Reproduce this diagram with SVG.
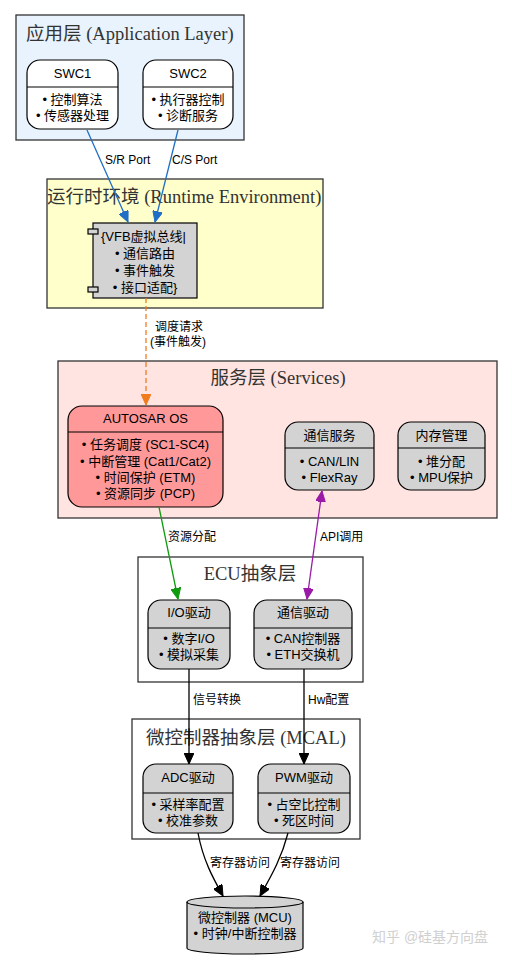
<svg xmlns="http://www.w3.org/2000/svg" width="512" height="961" viewBox="0 0 512 961">
<style>
.cl{stroke:#333;stroke-width:1.3}
.ct{font-family:"Liberation Serif","Noto Sans CJK SC",serif;font-size:18.5px;fill:#333}
.nd{stroke:#000;stroke-width:1.2}
.t{font-family:"Liberation Sans","Noto Sans CJK SC",sans-serif;font-size:13px;fill:#000;text-anchor:middle}
.el{font-family:"Liberation Sans","Noto Sans CJK SC",sans-serif;font-size:12px;fill:#000}
.e{fill:none;stroke-width:1.3}
</style>
<defs>
<marker id="ab" markerUnits="userSpaceOnUse" markerWidth="12" markerHeight="10" refX="11" refY="5" orient="auto"><path d="M0,0 L11,5 L0,10 z" fill="#1f6fc5" stroke="#1f6fc5"/></marker>
<marker id="ao" markerUnits="userSpaceOnUse" markerWidth="12" markerHeight="10" refX="11" refY="5" orient="auto"><path d="M0,0 L11,5 L0,10 z" fill="#f07c1e" stroke="#f07c1e"/></marker>
<marker id="ag" markerUnits="userSpaceOnUse" markerWidth="12" markerHeight="10" refX="11" refY="5" orient="auto"><path d="M0,0 L11,5 L0,10 z" fill="#109a10" stroke="#109a10"/></marker>
<marker id="ap" markerUnits="userSpaceOnUse" markerWidth="12" markerHeight="10" refX="11" refY="5" orient="auto-start-reverse"><path d="M0,0 L11,5 L0,10 z" fill="#9a1aa8" stroke="#9a1aa8"/></marker>
<marker id="ak" markerUnits="userSpaceOnUse" markerWidth="12" markerHeight="10" refX="11" refY="5" orient="auto"><path d="M0,0 L11,5 L0,10 z" fill="#000" stroke="#000"/></marker>
</defs>
<rect width="512" height="961" fill="#fff"/>

<g id="cluster_app">
<rect class="cl" x="16" y="15" width="228" height="125" fill="#e8f3fd"/>
<text class="ct" x="26" y="40">应用层 (Application Layer)</text>
</g>
<g id="cluster_rte">
<rect class="cl" x="47" y="179" width="276" height="129" fill="#ffffcc"/>
<text class="ct" x="47" y="203">运行时环境 (Runtime Environment)</text>
</g>
<g id="cluster_services">
<rect class="cl" x="58" y="361" width="439" height="157" fill="#ffe4e1"/>
<text class="ct" x="278" y="384" text-anchor="middle">服务层 (Services)</text>
</g>
<g id="cluster_ecu">
<rect class="cl" x="138" y="557" width="225" height="125" fill="#fff"/>
<text class="ct" x="250" y="580" text-anchor="middle">ECU抽象层</text>
</g>
<g id="cluster_mcal">
<rect class="cl" x="132" y="719" width="228" height="120" fill="#fff"/>
<text class="ct" x="246" y="744" text-anchor="middle">微控制器抽象层 (MCAL)</text>
</g>

<g id="SWC1">
<rect class="nd" x="27" y="60" width="91" height="69" rx="13" fill="#fff"/>
<line class="nd" x1="27" y1="87" x2="118" y2="87"/>
<text class="t" x="72.5" y="78">SWC1</text>
<text class="t" x="72.5" y="104">• 控制算法</text>
<text class="t" x="72.5" y="120">• 传感器处理</text>
</g>
<g id="SWC2">
<rect class="nd" x="143" y="60" width="90" height="69" rx="13" fill="#fff"/>
<line class="nd" x1="143" y1="87" x2="233" y2="87"/>
<text class="t" x="188" y="78">SWC2</text>
<text class="t" x="188" y="104">• 执行器控制</text>
<text class="t" x="188" y="120">• 诊断服务</text>
</g>

<g id="VFB">
<rect class="nd" x="93" y="223" width="104" height="75" fill="#d3d3d3"/>
<rect class="nd" x="88" y="229" width="10" height="5" fill="#d3d3d3"/>
<rect class="nd" x="88" y="287" width="10" height="5" fill="#d3d3d3"/>
<text class="t" x="101" y="241" style="text-anchor:start">{VFB虚拟总线|</text>
<text class="t" x="145" y="258">• 通信路由</text>
<text class="t" x="145" y="275">• 事件触发</text>
<text class="t" x="145" y="292">• 接口适配}</text>
</g>

<g id="AUTOSAR_OS">
<rect class="nd" x="68" y="406" width="155" height="101" rx="14" fill="#ff9999"/>
<line class="nd" x1="68" y1="432" x2="223" y2="432"/>
<text class="t" x="145.5" y="423">AUTOSAR OS</text>
<text class="t" x="145.5" y="449">• 任务调度 (SC1-SC4)</text>
<text class="t" x="145.5" y="466">• 中断管理 (Cat1/Cat2)</text>
<text class="t" x="145.5" y="482">• 时间保护 (ETM)</text>
<text class="t" x="145.5" y="498">• 资源同步 (PCP)</text>
</g>
<g id="COM_SERVICE">
<rect class="nd" x="285" y="422" width="89" height="68" rx="13" fill="#d3d3d3"/>
<line class="nd" x1="285" y1="448" x2="374" y2="448"/>
<text class="t" x="329.5" y="440">通信服务</text>
<text class="t" x="329.5" y="466">• CAN/LIN</text>
<text class="t" x="329.5" y="482">• FlexRay</text>
</g>
<g id="MEM_MGMT">
<rect class="nd" x="398" y="422" width="87" height="68" rx="13" fill="#d3d3d3"/>
<line class="nd" x1="398" y1="448" x2="485" y2="448"/>
<text class="t" x="441.5" y="440">内存管理</text>
<text class="t" x="441.5" y="466">• 堆分配</text>
<text class="t" x="441.5" y="482">• MPU保护</text>
</g>

<g id="IO_DRIVER">
<rect class="nd" x="148" y="600" width="82" height="69" rx="13" fill="#d3d3d3"/>
<line class="nd" x1="148" y1="628" x2="230" y2="628"/>
<text class="t" x="189" y="617">I/O驱动</text>
<text class="t" x="189" y="643">• 数字I/O</text>
<text class="t" x="189" y="659">• 模拟采集</text>
</g>
<g id="COM_DRIVER">
<rect class="nd" x="254" y="600" width="98" height="69" rx="13" fill="#d3d3d3"/>
<line class="nd" x1="254" y1="628" x2="352" y2="628"/>
<text class="t" x="303" y="617">通信驱动</text>
<text class="t" x="303" y="643">• CAN控制器</text>
<text class="t" x="303" y="659">• ETH交换机</text>
</g>

<g id="ADC_DRIVER">
<rect class="nd" x="143" y="764" width="90" height="69" rx="13" fill="#d3d3d3"/>
<line class="nd" x1="143" y1="793" x2="233" y2="793"/>
<text class="t" x="188" y="782">ADC驱动</text>
<text class="t" x="188" y="809">• 采样率配置</text>
<text class="t" x="188" y="825">• 校准参数</text>
</g>
<g id="PWM_DRIVER">
<rect class="nd" x="258" y="764" width="92" height="69" rx="13" fill="#d3d3d3"/>
<line class="nd" x1="258" y1="793" x2="350" y2="793"/>
<text class="t" x="304" y="782">PWM驱动</text>
<text class="t" x="304" y="809">• 占空比控制</text>
<text class="t" x="304" y="825">• 死区时间</text>
</g>

<g id="MCU">
<path class="nd" d="M187,902 A58,6 0 0 1 303,902 L303,948 A58,6 0 0 1 187,948 Z" fill="#d3d3d3"/>
<path class="nd" d="M187,902 A58,6 0 0 0 303,902" fill="none"/>
<text class="t" x="245" y="922">微控制器 (MCU)</text>
<text class="t" x="245" y="938">• 时钟/中断控制器</text>
</g>

<g id="edges">
<path class="e" d="M87,130 L128,222" stroke="#1f6fc5" marker-end="url(#ab)"/>
<text class="el" x="105" y="164">S/R Port</text>
<path class="e" d="M178,130 L155,222" stroke="#1f6fc5" marker-end="url(#ab)"/>
<text class="el" x="172" y="164">C/S Port</text>

<path class="e" d="M146,298 L146,405" stroke="#f07c1e" stroke-dasharray="5,3" marker-end="url(#ao)"/>
<text class="el" x="155" y="331">调度请求</text>
<text class="el" x="150" y="346">(事件触发)</text>

<path class="e" d="M159,507 L178,599" stroke="#109a10" marker-end="url(#ag)"/>
<text class="el" x="168" y="541">资源分配</text>

<path class="e" d="M307,599 L322,491" stroke="#9a1aa8" marker-start="url(#ap)" marker-end="url(#ap)"/>
<text class="el" x="320" y="541">API调用</text>

<path class="e" d="M189,669 L189,764" stroke="#000" marker-end="url(#ak)"/>
<text class="el" x="193" y="704">信号转换</text>
<path class="e" d="M304,669 L304,764" stroke="#000" marker-end="url(#ak)"/>
<text class="el" x="308" y="704">Hw配置</text>

<path class="e" d="M198,833 C203,860 213,878 223,896" stroke="#000" marker-end="url(#ak)"/>
<text class="el" x="210" y="867">寄存器访问</text>
<path class="e" d="M288,833 C281,860 270,878 260,896" stroke="#000" marker-end="url(#ak)"/>
<text class="el" x="280" y="867">寄存器访问</text>
</g>

<text x="372" y="942" style="font-family:'Liberation Sans','Noto Sans CJK SC',sans-serif;font-size:14px;fill:#d0d0d0">知乎 @硅基方向盘</text>
</svg>
